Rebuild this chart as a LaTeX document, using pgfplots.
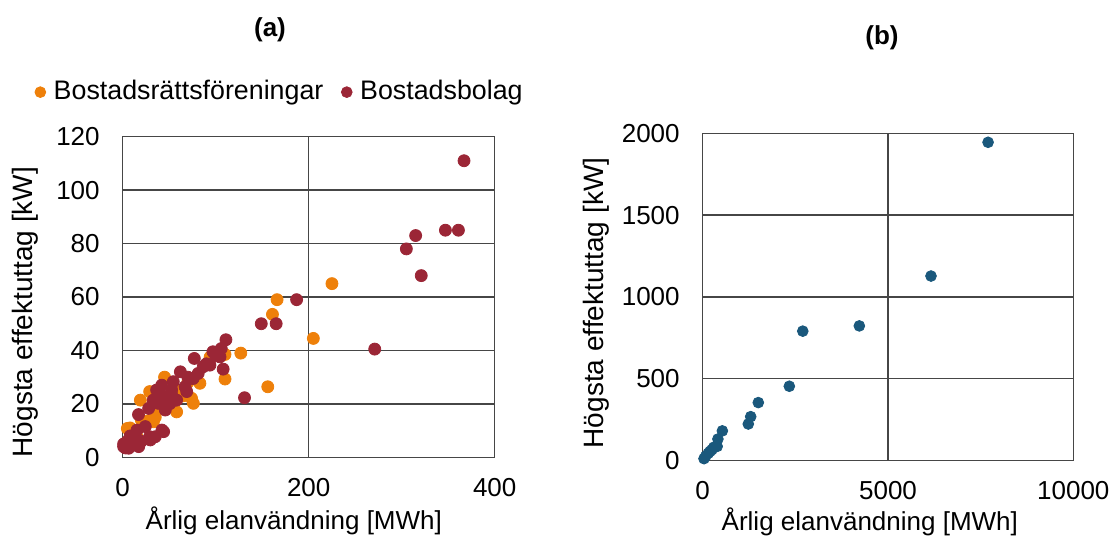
\documentclass[border=0pt]{standalone}
\usepackage{fontspec}
\setmainfont{Liberation Sans}
\usepackage{pgfplots}
\pgfplotsset{compat=1.18}
\definecolor{cor}{RGB}{238,128,10}
\definecolor{cred}{RGB}{155,38,54}
\definecolor{cblue}{RGB}{26,88,124}
\definecolor{cgrid}{RGB}{70,70,70}
\begin{document}
\fontsize{13pt}{15.6pt}\selectfont
\begin{tikzpicture}
\useasboundingbox (0,0) rectangle (556pt,268pt);
\pgfplotsset{common/.style={scale only axis, clip=false,
  axis line style={cgrid, line width=0.75pt},
  grid=major, grid style={cgrid, line width=0.75pt},
  major tick length=0pt, tick style={draw=none},
  /pgf/number format/assume math mode=true,
  /pgf/number format/1000 sep={}, scaled ticks=false,
  xticklabel style={yshift=-6pt}, yticklabel style={xshift=-7pt},
  ylabel style={font=\fontsize{14pt}{16.8pt}\selectfont},
  legend image code/.code={\draw[mark size=2.7pt] plot coordinates {(0pt,0pt)};}}}
\begin{axis}[common, at={(61.35pt,39.35pt)}, anchor=south west,
  width=186pt, height=160.3pt,
  xmin=0, xmax=400, ymin=0, ymax=120,
  xtick={0,200,400}, ytick={0,20,...,120},
  xlabel={Årlig elanvändning [MWh]}, ylabel={Högsta effektuttag [kW]},
  xlabel style={at={(axis description cs:0.46,-0.199)}, anchor=center},
  ylabel style={at={(axis description cs:-0.263,0.453)}, anchor=center},
  legend style={at={(axis description cs:-0.237,1.139)}, anchor=west, draw=none, fill=none,
    inner sep=0pt, font=\fontsize{13.4pt}{16pt}\selectfont,
    /tikz/every odd column/.append style={column sep=2pt},
    /tikz/every even column/.append style={column sep=7pt}},
  legend columns=2, legend cell align=left]
\addplot[only marks, mark=*, mark size=3pt, color=cor, mark options={fill=cor, draw=cor}] table {
x y
225 65
166 59
161 53.5
205 44.5
127 39
156 26.4
110 29.3
110 38.5
94 37.5
83 27.7
45 30
29 24.6
19 21.4
74 22.1
76 20.2
58 17
33 13.3
30 14
8 11
5 10.8
60 25
50 20
40 18
70 28
15 8
10 6
35 15
65 23
55 22
12 10
20 14
3 5
};
\addlegendentry{Bostadsrättsföreningar}
\addplot[only marks, mark=*, mark size=3pt, color=cred, mark options={fill=cred, draw=cred}] table {
x y
367 111
315 83
347 85
361 85
305 78
321 68
271 40.5
187 59
149 50
165 50
131 22.3
111 44
106 40.7
97 39.5
104.6 37.6
77 37
108 33
93.8 34.5
86.6 33.9
81.2 31.4
75.8 29.5
72.3 29.5
62 32
67 26.4
54.4 28.3
42 27
40 24
36.5 25.2
52.6 25.2
52.6 23.3
68.8 24.6
43.6 22.7
32.9 21.4
38.2 20.2
50.8 20.1
58 21.4
27.9 18.3
45.8 17.7
17 16
24.3 11.5
15.4 10.2
42.2 10.2
44 9.6
35 7.7
29 7.7
29.7 6.5
17.2 4
13.5 4.6
6.4 3.4
1 5
1 4
5 6
10 5
20 6
3 3.5
8 8
12 7
90 35
100 38
70 30
};
\addlegendentry{Bostadsbolag}
\end{axis}
\begin{axis}[common, at={(351.35pt,37.85pt)}, anchor=south west,
  width=185.3pt, height=163.5pt,
  xmin=0, xmax=10000, ymin=0, ymax=2000,
  xtick={0,5000,10000}, ytick={0,500,...,2000},
  xlabel={Årlig elanvändning [MWh]}, ylabel={Högsta effektuttag [kW]},
  xlabel style={at={(axis description cs:0.451,-0.189)}, anchor=center},
  ylabel style={at={(axis description cs:-0.288,0.481)}, anchor=center}]
\addplot[only marks, mark=*, mark size=2.7pt, color=cblue, mark options={fill=cblue, draw=cblue}] table {
x y
7700 1945
6160 1127
4226 822
2700 790
2337 453
1500 353
1295 267
1230 222
530 180
410 130
390 85
300 80
250 65
200 55
150 43
80 25
35 10
};
\end{axis}
\node[font=\bfseries] at (135pt,253pt) {(a)};
\node[font=\bfseries] at (441pt,249pt) {(b)};
\end{tikzpicture}
\end{document}
